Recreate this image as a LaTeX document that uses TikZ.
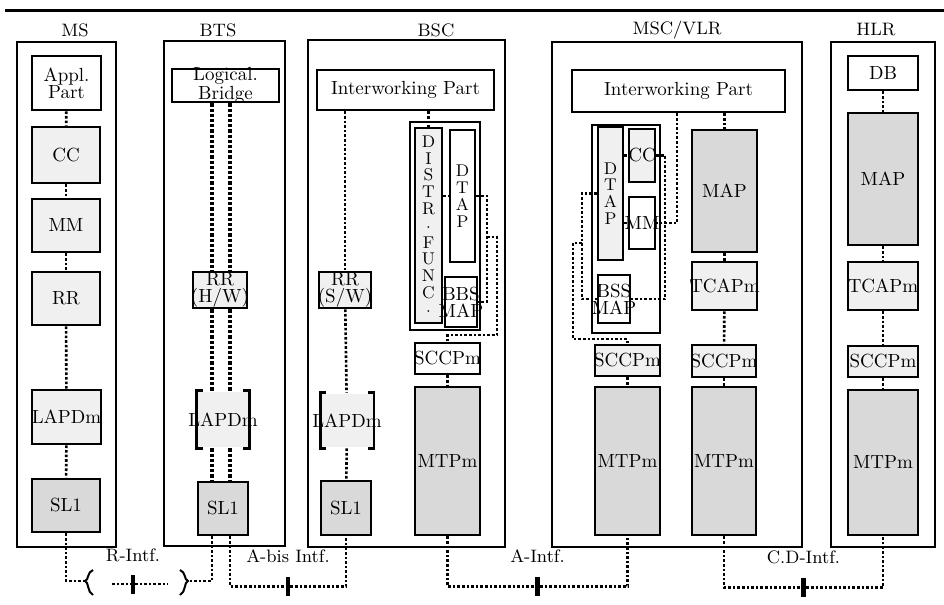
\documentclass[tikz,border=0pt]{standalone}
\usepackage{tikz}

\begin{document}
\begin{tikzpicture}[
  x=0.5pt, y=-0.5pt,
  frm/.style={draw, line width=0.9pt, inner sep=0pt},
  grp/.style={draw, line width=0.6pt, inner sep=0pt},
  blk/.style={draw, line width=1.4pt, inner sep=0pt, fill=white},
  lite/.style={blk, fill=black!6},
  dark/.style={blk, fill=black!15},
  brk/.style={lite, draw=none},
  sz/.style 2 args={minimum width=#1*0.5pt, minimum height=#2*0.5pt},
  tx/.style={label={[align=center, font={\fontsize{9.5}{8.5}\selectfont}]center:#1}},
  vtx/.style={label={[align=center, font={\fontsize{8.5}{8.4}\selectfont}]center:#1}},
  hd/.style={font=\small},
  link/.style={densely dotted, line width=1.3pt},
  dlink/.style={densely dotted, line width=1.6pt},
  tk/.style={fill, inner sep=0pt, minimum width=2.2pt, minimum height=9.5pt,
             label={[font=\small, label distance=2.5pt]above:#1}}
]
\useasboundingbox (0,0) rectangle (944,605);
\draw[line width=1.5pt] (5,10) -- (944,10);

\node[frm, sz={99}{505}] (msf) at (66.5,294.5) {};
\node[frm, sz={121}{505}] (btsf) at (224.5,293.5) {};
\node[frm, sz={197}{507}] (bscf) at (406.5,293.5) {};
\node[frm, sz={250}{505}] (mscf) at (677,294.5) {};
\node[frm, sz={104}{505}] (hlrf) at (883,294.5) {};

\node[hd] (msh) at (75,30) {MS};
\node[hd] (btsh) at (218,30) {BTS};
\node[hd] (bsch) at (436,30) {BSC};
\node[hd] (msch) at (677,30) {MSC/VLR};
\node[hd] (hlrh) at (876,30) {HLR};

\node[blk, sz={69}{54}, tx={Appl.\\Part}] (msappl) at (66.5,83) {};
\node[lite, sz={68}{56}, tx=CC] (mscc) at (66,155) {};
\node[lite, sz={68}{53}, tx=MM] (msmm) at (66,225.5) {};
\node[lite, sz={68}{53}, tx=RR] (msrr) at (66,298.5) {};
\node[lite, sz={69}{54}, tx=LAPDm] (mslapd) at (66.5,417) {};
\node[dark, sz={68}{53}, tx=SL1] (mssl1) at (66,505.5) {};

\node[blk, sz={107}{33}, tx={Logical.\\Bridge}] (btslog) at (225.5,85.5) {};
\node[lite, sz={54}{36}, tx={RR\\(H/W)}] (btsrr) at (220,290) {};
\node[brk, sz={50}{55}, tx=LAPDm] (btslapd) at (223,419.5) {};
\node[dark, sz={50}{53}, tx=SL1] (btssl1) at (223,508.5) {};

\node[blk, sz={177}{40}, tx={Interworking Part}] (bsciwp) at (405.5,90) {};
\node[lite, sz={52}{36}, tx={RR\\(S/W)}] (bscrr) at (345,290) {};
\node[brk, sz={51}{53}, tx=LAPDm] (bsclapd) at (347,420.5) {};
\node[dark, sz={50}{54}, tx=SL1] (bscsl1) at (346,508) {};
\node[grp, sz={70}{208}] (bscgrp) at (445,226) {};
\node[lite, sz={27}{195}, vtx={D\\I\\S\\T\\R\\$\cdot$\\F\\U\\N\\C\\$\cdot$}] (bscdist) at (428.5,225.5) {};
\node[blk, sz={25}{132}, vtx={D\\T\\A\\P}] (bscdtap) at (462.5,196) {};
\node[blk, sz={32}{50}, tx={BBS\\MAP}] (bscbbs) at (461,302) {};
\node[blk, sz={65}{31}, tx=SCCPm] (bscsccp) at (447.5,358.5) {};
\node[dark, sz={65}{148}, tx=MTPm] (bscmtp) at (447.5,461) {};

\node[blk, sz={213}{42}, tx={Interworking Part}] (msciwp) at (678.5,91) {};
\node[grp, sz={68}{208}] (mscgrp) at (626,229) {};
\node[lite, sz={25}{133}, vtx={D\\T\\A\\P}] (mscdtap) at (610.5,193.5) {};
\node[lite, sz={26}{53}, tx=CC] (msccc) at (642,155.5) {};
\node[blk, sz={26}{52}, tx=MM] (mscmm) at (642,223) {};
\node[blk, sz={32}{48}, tx={BSS\\MAP}] (mscbss) at (614,299) {};
\node[lite, sz={65}{31}, tx=SCCPm] (mscsccpl) at (627.5,360.5) {};
\node[dark, sz={65}{148}, tx=MTPm] (mscmtpl) at (627.5,461) {};
\node[dark, sz={65}{122}, tx=MAP] (mscmap) at (724.5,191) {};
\node[lite, sz={65}{48}, tx=TCAPm] (msctcap) at (724.5,286) {};
\node[lite, sz={64}{32}, tx=SCCPm] (mscsccpr) at (724,361) {};
\node[dark, sz={64}{148}, tx=MTPm] (mscmtpr) at (724,461) {};

\node[blk, sz={70}{34}, tx=DB] (hlrdb) at (883,73) {};
\node[dark, sz={70}{132}, tx=MAP] (hlrmap) at (883,179) {};
\node[lite, sz={70}{48}, tx=TCAPm] (hlrtcap) at (883,286) {};
\node[lite, sz={70}{31}, tx=SCCPm] (hlrsccp) at (883,361.5) {};
\node[dark, sz={70}{145}, tx=MTPm] (hlrmtp) at (883,462.5) {};

\foreach \n in {btslapd,bsclapd} {
  \draw[line width=1.4pt] ([xshift=3pt]\n.north west) -| (\n.south west) -- ++(6,0);
  \draw[line width=1.4pt] ([xshift=-3pt]\n.north east) -| (\n.south east) -- ++(-6,0);
}

\draw[link] (msappl) -- (mscc);
\draw[link] (mscc) -- (msmm);
\draw[link] (msmm) -- (msrr);
\draw[link] (msrr) -- (mslapd);
\draw[link] (mslapd) -- (mssl1);

\coordinate (bl) at (212,0);
\coordinate (br) at (230,0);
\foreach \c in {bl,br} {
  \draw[dlink] (btslog.south -| \c) -- (btsrr.north -| \c);
  \draw[dlink] (btsrr.south -| \c) -- (btslapd.north -| \c);
  \draw[dlink] (btslapd.south -| \c) -- (btssl1.north -| \c);
}

\draw[link] (bsciwp.south -| bscrr.north) -- (bscrr.north);
\draw[link] (bscrr) -- (bsclapd);
\draw[link] (bsclapd) -- (bscsl1);
\draw[link] (bsciwp.south -| bscdist.north) -- (bscdist.north);
\draw[link] (bscdist.east |- bscdtap.west) -- (bscdtap.west);
\coordinate (bx) at (487,0);
\draw[link] (bscdtap.east) -| (bx |- bscbbs.east) -- (bscbbs.east);
\coordinate (bj) at (487,237);
\coordinate (bk) at (497,335);
\draw[link] (bj) -| (bk) -| (bscsccp.north);
\draw[link] (bscsccp) -- (bscmtp);

\draw[link] (msciwp.south -| mscmap.north) -- (mscmap.north);
\draw[link] (mscmap) -- (msctcap);
\draw[link] (msctcap) -- (mscsccpr);
\draw[link] (mscsccpr) -- (mscmtpr);
\coordinate (mx) at (677,0);
\draw[link] (msciwp.south -| mx) |- (mscmm.east);
\draw[link] (mscdtap.east |- msccc.west) -- (msccc.west);
\draw[link] (mscdtap.east |- mscmm.west) -- (mscmm.west);
\coordinate (cx) at (665,0);
\draw[link] (msccc.east) -| (cx |- mscbss.east) -- (mscbss.east);
\coordinate (dx) at (582,0);
\draw[link] (mscdtap.west) -| (dx |- mscbss.west) -- (mscbss.west);
\coordinate (mj) at (582,243);
\coordinate (mk) at (573,339);
\draw[link] (mj) -| (mk) -| (mscsccpl.north);
\draw[link] (mscsccpl) -- (mscmtpl);

\draw[link] (hlrdb) -- (hlrmap);
\draw[link] (hlrmap) -- (hlrtcap);
\draw[link] (hlrtcap) -- (hlrsccp);
\draw[link] (hlrsccp) -- (hlrmtp);

\coordinate (rl) at (85,581);
\coordinate (rr) at (188,581);
\coordinate (rw) at (112,584);
\coordinate (re) at (168,584);
\draw[link] (mssl1.south) |- (rl);
\draw[line width=1pt] (93,570) .. controls (87,572) and (89,580) .. (rl) .. controls (89,582) and (87,592) .. (93,595);
\draw[link] (rw) -- (re);
\node[tk=R-Intf.] (rtick) at (133,584) {};
\draw[line width=1pt] (180,570) .. controls (186,572) and (184,580) .. (rr) .. controls (184,582) and (186,592) .. (180,595);
\draw[link] (btssl1.south -| bl) |- (rr);
\draw[link] (btssl1.south -| br) -- ++(0,50) -| node[pos=0.25, tk=A-bis Intf.] (abis) {} (bscsl1.south);
\draw[link] (bscmtp.south) -- ++(0,50) -| node[pos=0.25, tk=A-Intf.] (aint) {} (mscmtpl.south);
\draw[link] (mscmtpr.south) -- ++(0,51) -| node[pos=0.25, tk=C.D-Intf.] (cdint) {} (hlrmtp.south);

\end{tikzpicture}
\end{document}
